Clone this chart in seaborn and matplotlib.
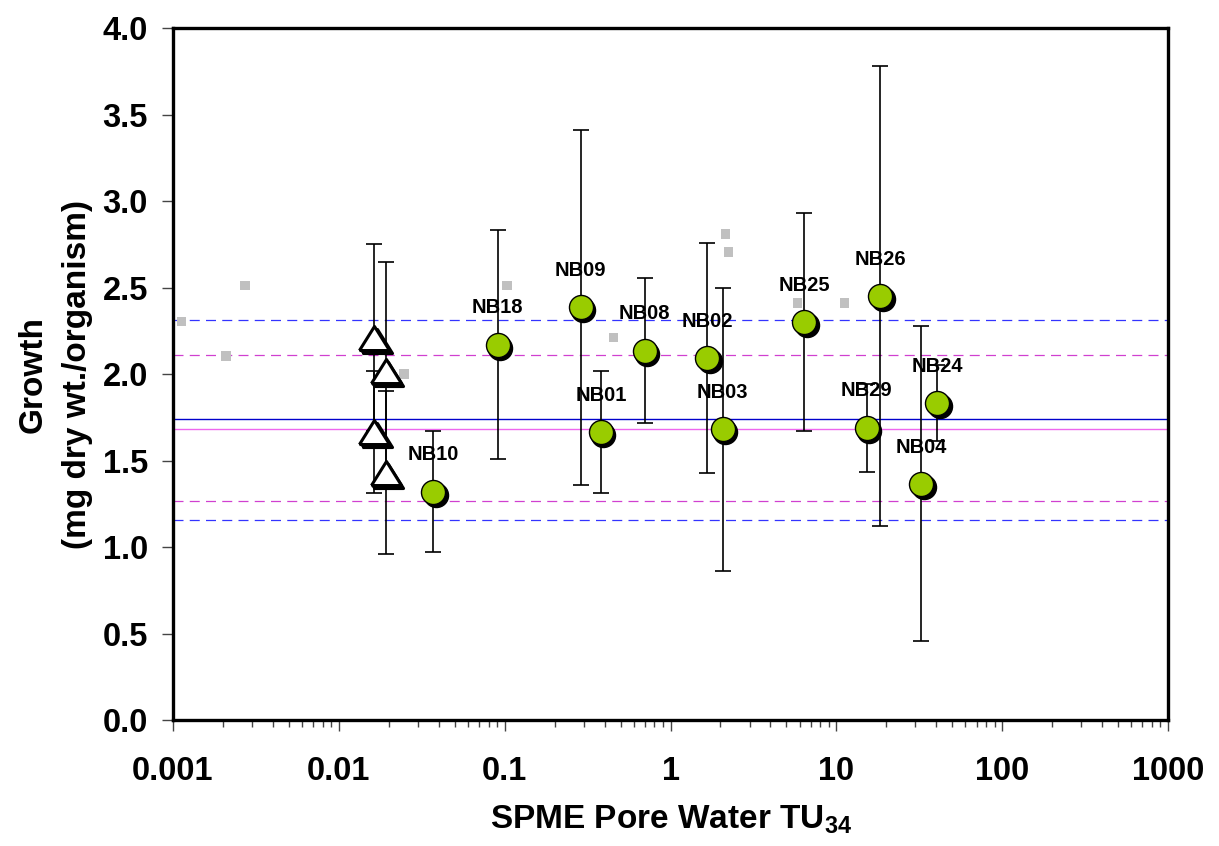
import numpy as np
import pandas as pd
import matplotlib
matplotlib.use("Agg")
import matplotlib.pyplot as plt
import matplotlib.transforms as mtransforms
import seaborn as sns

# Sediment sites: pore-water toxic units vs. growth (mean and SD)
sites = ["NB10", "NB18", "NB09", "NB01", "NB08", "NB02", "NB03",
         "NB25", "NB26", "NB29", "NB24", "NB04"]
site_tu = [0.037, 0.091, 0.287, 0.38, 0.70, 1.67, 2.06, 6.4, 18.4, 15.2, 40.6, 32.5]
site_growth = [1.32, 2.17, 2.385, 1.665, 2.135, 2.09, 1.68, 2.30, 2.45, 1.69, 1.83, 1.365]
site_sd = [0.35, 0.66, 1.025, 0.35, 0.42, 0.665, 0.82, 0.63, 1.33, 0.255, 0.22, 0.91]

# Control / reference sediments
ctrl_tu = [0.0163, 0.0192, 0.0163, 0.0192]
ctrl_growth = [2.21, 2.02, 1.665, 1.43]
ctrl_sd = [0.54, 0.63, 0.35, 0.47]

# Historical control growth values
hist_tu = [0.00113, 0.00209, 0.00272, 0.0247, 0.103, 0.454, 2.14, 2.24, 5.82, 11.2]
hist_growth = [2.305, 2.105, 2.51, 2.0, 2.51, 2.21, 2.81, 2.705, 2.41, 2.41]

# Reference lines: mean and mean +/- 2 SD
mean_a, band_a = 1.74, [2.312, 1.157]
mean_b, band_b = 1.682, [2.11, 1.266]

x_ticks = [0.001, 0.01, 0.1, 1, 10, 100, 1000]
x_ticklabels = ["0.001", "0.01", "0.1", "1", "10", "100", "1000"]
y_ticks = [0.0, 0.5, 1.0, 1.5, 2.0, 2.5, 3.0, 3.5, 4.0]

sns.set_theme(style="ticks")
plt.rcParams["font.family"] = ["Liberation Sans", "DejaVu Sans"]
plt.rcParams["font.weight"] = "bold"
plt.rcParams["text.color"] = "black"
plt.rcParams["axes.labelcolor"] = "black"
plt.rcParams["xtick.labelcolor"] = "black"
plt.rcParams["ytick.labelcolor"] = "black"
plt.rcParams["mathtext.fontset"] = "custom"
plt.rcParams["mathtext.rm"] = "Liberation Sans:bold"
plt.rcParams["mathtext.bf"] = "Liberation Sans:bold"
plt.rcParams["mathtext.default"] = "bf"

fig = plt.figure(figsize=(12.19, 8.46), dpi=100)
ax = fig.add_axes([0.1419, 0.1489, 0.9582 - 0.1419, 0.9669 - 0.1489])
ax.set_xscale("log")
ax.set_xlim(0.001, 1000)
ax.set_ylim(0, 4)

# Reference lines
for yv in band_a:
    ax.axhline(yv, color="#3333ff", lw=0.9, ls=(0, (8, 5)), zorder=1)
for yv in band_b:
    ax.axhline(yv, color="#d040d0", lw=0.9, ls=(0, (8, 5)), zorder=1)
ax.axhline(mean_a, color="#0000cc", lw=1.0, zorder=1)
ax.axhline(mean_b, color="#ee66ee", lw=1.0, zorder=1)

# Historical controls
hist = pd.DataFrame({"tu": hist_tu, "growth": hist_growth})
sns.scatterplot(data=hist, x="tu", y="growth", marker="s", s=46,
                color="#c0c0c0", edgecolor="none", ax=ax, zorder=2)

# Error bars
ax.errorbar(site_tu, site_growth, yerr=site_sd, fmt="none", ecolor="black",
            elinewidth=1.2, capsize=6, capthick=1.2, zorder=3)
ax.errorbar(ctrl_tu, ctrl_growth, yerr=ctrl_sd, fmt="none", ecolor="black",
            elinewidth=1.2, capsize=6, capthick=1.2, zorder=3)

shadow = mtransforms.offset_copy(ax.transData, fig=fig, x=2.5, y=-3.0, units="dots")

# Control triangles (wide triangle) with drop shadow
tri = [(-1.0, -0.8), (1.0, -0.8), (0.0, 0.8), (-1.0, -0.8)]
ctrl = pd.DataFrame({"tu": ctrl_tu, "growth": ctrl_growth})
sns.scatterplot(data=ctrl, x="tu", y="growth", marker=tri, s=470,
                color="black", edgecolor="black", linewidth=2.2, ax=ax, zorder=4)
ax.collections[-1].set_offset_transform(shadow)
sns.scatterplot(data=ctrl, x="tu", y="growth", marker=tri, s=470,
                color="white", edgecolor="black", linewidth=2.2, ax=ax, zorder=5)

# Site circles with drop shadow
site = pd.DataFrame({"tu": site_tu, "growth": site_growth, "site": sites})
sns.scatterplot(data=site, x="tu", y="growth", marker="o", s=300,
                color="black", edgecolor="black", linewidth=1.0, ax=ax, zorder=6)
ax.collections[-1].set_offset_transform(shadow)
sns.scatterplot(data=site, x="tu", y="growth", marker="o", s=300,
                color="#99cc00", edgecolor="black", linewidth=1.0, ax=ax, zorder=7)

for name, xv, yv in zip(sites, site_tu, site_growth):
    ax.annotate(name, (xv, yv), xytext=(0, 26.5), textcoords="offset points",
                ha="center", va="center", fontsize=14.5, fontweight="bold",
                color="black", zorder=8)

# Axes styling
for sp in ax.spines.values():
    sp.set_visible(True)
    sp.set_linewidth(2.4)
    sp.set_color("black")

ax.set_xticks(x_ticks)
ax.set_xticklabels(x_ticklabels)
ax.set_yticks(y_ticks)
ax.set_yticklabels([f"{v:.1f}" for v in y_ticks])
ax.xaxis.set_minor_locator(matplotlib.ticker.LogLocator(base=10, subs=np.arange(2, 10)))
ax.xaxis.set_minor_formatter(matplotlib.ticker.NullFormatter())
ax.tick_params(axis="both", which="major", direction="out", length=8, width=1.0,
               color="#444444", labelcolor="black", labelsize=23.5, pad=10)
ax.tick_params(axis="x", which="major", pad=18)
ax.tick_params(axis="x", which="minor", direction="out", length=5, width=1.0,
               color="#444444")
ax.tick_params(axis="y", which="minor", left=False)
for lab in ax.get_xticklabels() + ax.get_yticklabels():
    lab.set_fontweight("bold")
    lab.set_color("black")

ax.set_xlabel(r"SPME Pore Water TU$_{34}$", fontsize=24, fontweight="bold",
              labelpad=12, color="black")
ax.set_ylabel("Growth\n(mg dry wt./organism)", fontsize=24, fontweight="bold",
              labelpad=7, linespacing=1.55, color="black")
ax.grid(False)
ax.set_facecolor("white")

fig.savefig("out.png", dpi=100, facecolor="white")
